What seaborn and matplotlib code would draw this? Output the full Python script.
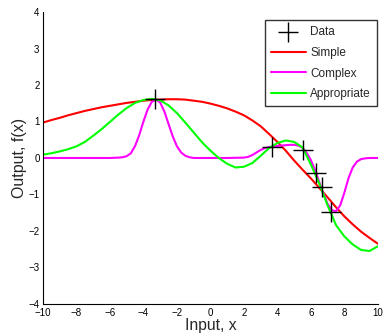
import matplotlib
matplotlib.use("Agg")
import matplotlib.pyplot as plt
import seaborn as sns

# --- data ---
data_x = [-3.31, 3.69, 5.54, 6.30, 6.68, 7.23]
data_y = [1.62, 0.31, 0.22, -0.40, -0.79, -1.47]

grid_x = [-10, -9.5, -9, -8.5, -8, -7.5, -7, -6.5, -6, -5.5, -5, -4.5, -4, -3.5, -3,
          -2.5, -2, -1.5, -1, -0.5, 0, 0.5, 1, 1.5, 2, 2.5, 3, 3.5, 4, 4.5, 5, 5.5,
          6, 6.5, 7, 7.5, 8, 8.5, 9, 9.5, 10]

simple_y = [0.97, 1.04, 1.10, 1.17, 1.23, 1.29, 1.34, 1.39, 1.43, 1.47, 1.51, 1.54,
            1.57, 1.59, 1.60, 1.61, 1.61, 1.60, 1.57, 1.54, 1.49, 1.43, 1.36, 1.27,
            1.17, 1.03, 0.87, 0.66, 0.44, 0.20, -0.07, -0.32, -0.56, -0.82, -1.08,
            -1.35, -1.60, -1.82, -2.02, -2.19, -2.35]

appropriate_y = [0.09, 0.13, 0.18, 0.24, 0.32, 0.44, 0.61, 0.79, 0.99, 1.19, 1.37,
                 1.51, 1.59, 1.62, 1.58, 1.44, 1.23, 0.97, 0.70, 0.43, 0.20, 0.00,
                 -0.16, -0.26, -0.24, -0.14, 0.06, 0.27, 0.41, 0.48, 0.44, 0.29,
                 -0.18, -0.70, -1.30, -1.84, -2.15, -2.37, -2.52, -2.55, -2.42]

complex_x = [-10, -8, -6, -5.5, -5.25, -5.0, -4.75, -4.5, -4.25, -4.0, -3.75, -3.5,
             -3.25, -3.0, -2.75, -2.5, -2.25, -2.0, -1.75, -1.5, -1.25, -1.0, 0, 1,
             2.0, 2.25, 2.5, 2.75, 3.0, 3.25, 3.5, 3.75, 4.0, 4.25, 4.5, 4.75, 5.0,
             5.25, 5.5, 5.75, 6.0, 6.25, 6.5, 6.75, 7.0, 7.25, 7.5, 7.75, 8.0, 8.25,
             8.5, 8.75, 9.0, 9.25, 9.5, 10]
complex_y = [0.0, 0.0, 0.0, 0.01, 0.02, 0.05, 0.13, 0.33, 0.63, 1.00, 1.33, 1.54,
             1.60, 1.52, 1.27, 0.93, 0.59, 0.32, 0.15, 0.06, 0.02, 0.0, 0.0, 0.0,
             0.01, 0.03, 0.08, 0.15, 0.22, 0.27, 0.30, 0.32, 0.33, 0.34, 0.35, 0.36,
             0.36, 0.34, 0.28, 0.14, -0.06, -0.33, -0.66, -0.98, -1.26, -1.43, -1.46,
             -1.30, -0.95, -0.55, -0.26, -0.10, -0.03, -0.01, 0.0, 0.0]

sns.set_style("white")
plt.rcParams["font.family"] = ["Liberation Sans", "DejaVu Sans"]

fig = plt.figure(figsize=(3.84, 3.34), dpi=100)
ax = fig.add_axes([0.112, 0.09, 0.872, 0.874])

sns.scatterplot(x=data_x, y=data_y, marker="+", color="k", s=220, linewidth=1,
                label="Data", ax=ax, zorder=5)
sns.lineplot(x=grid_x, y=simple_y, color="#ff0000", linewidth=1.5, label="Simple", ax=ax)
sns.lineplot(x=complex_x, y=complex_y, color="#ff00ff", linewidth=1.5, label="Complex", ax=ax)
sns.lineplot(x=grid_x, y=appropriate_y, color="#00ff00", linewidth=1.5, label="Appropriate", ax=ax)

ax.set_xlim(-10, 10)
ax.set_ylim(-4, 4)
ax.set_xticks(range(-10, 11, 2))
ax.set_yticks(range(-4, 5))
ax.tick_params(direction="in", length=3, width=0.8, labelsize=7, colors="k")
ax.tick_params(axis="x", pad=3)
ax.tick_params(axis="y", pad=2.5)
sns.despine(ax=ax)
for side in ["left", "bottom"]:
    ax.spines[side].set_color("k")
    ax.spines[side].set_linewidth(0.8)

ax.set_xlabel("Input, x", fontsize=11.3, labelpad=0)
ax.set_ylabel("Output, f(x)", fontsize=11.5, labelpad=1)

leg = ax.legend(loc="upper right", bbox_to_anchor=(0.997, 0.973), borderaxespad=0,
                fontsize=8.5, handlelength=3.0, labelspacing=0.75, handletextpad=0.35,
                fancybox=False, frameon=True, borderpad=0.5)
leg.get_frame().set_edgecolor("k")
leg.get_frame().set_linewidth(1)

fig.savefig("out.png", dpi=100)
